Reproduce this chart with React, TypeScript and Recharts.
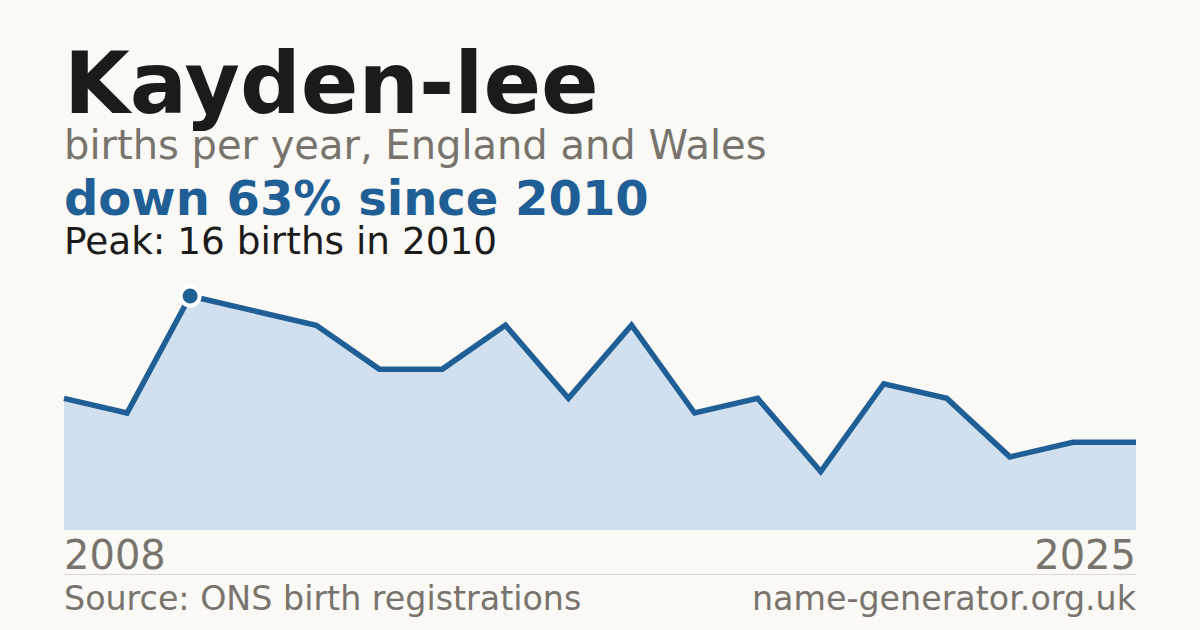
import React from "react";
import { AreaChart, Area, XAxis, YAxis, ReferenceDot } from "recharts";

const years = [2008, 2009, 2010, 2011, 2012, 2013, 2014, 2015, 2016, 2017, 2018, 2019, 2020, 2021, 2022, 2023, 2024, 2025];
const births = [9, 8, 16, 15, 14, 11, 11, 14, 9, 14, 8, 9, 4, 10, 9, 5, 6, 6];
const tickYears = [2008, 2025];
const peakYear = 2010;
const peakValue = 16;

const title = "Kayden-lee";
const subtitle = "births per year, England and Wales";
const headline = "down 63% since 2010";
const peakText = "Peak: 16 births in 2010";
const sourceText = "Source: ONS birth registrations";
const siteText = "name-generator.org.uk";

const data = years.map((y, i) => ({ year: y, births: births[i] }));

const BG = "#faf9f5";
const BLUE = "#1f5f96";
const FILL = "#d0e0ef";
const GRAY = "#78746d";
const INK = "#1b1b1b";
const FONT = "'DejaVu Sans', sans-serif";

const YearTick = (props: any) => {
  const { x, y, payload } = props;
  const first = payload.value === tickYears[0];
  return (
    <text
      x={x}
      y={y + 39}
      textAnchor={first ? "start" : "end"}
      fill={GRAY}
      fontSize={40}
      fontFamily={FONT}
    >
      {payload.value}
    </text>
  );
};

export default function App() {
  return (
    <div
      style={{
        position: "absolute",
        left: 0,
        top: 0,
        width: 1200,
        height: 630,
        background: BG,
        overflow: "hidden",
      }}
    >
      <svg width={1200} height={630} style={{ position: "absolute", left: 0, top: 0 }}>
        <text x={64} y={113} fontSize={85} fontWeight="bold" fill={INK} fontFamily={FONT}>
          {title}
        </text>
        <text x={64} y={159} fontSize={40} fill={GRAY} fontFamily={FONT}>
          {subtitle}
        </text>
        <text x={64} y={215} fontSize={48} fontWeight="bold" fill={BLUE} fontFamily={FONT}>
          {headline}
        </text>
        <text x={64} y={254} fontSize={37.4} fill={INK} fontFamily={FONT}>
          {peakText}
        </text>
        <line x1={64} x2={1136} y1={574.5} y2={574.5} stroke="#dcd9d2" strokeWidth={1} />
        <text x={64} y={610} fontSize={33.3} fill={GRAY} fontFamily={FONT}>
          {sourceText}
        </text>
        <text x={1136} y={610} fontSize={33.3} fill={GRAY} fontFamily={FONT} textAnchor="end">
          {siteText}
        </text>
      </svg>
      <div style={{ position: "absolute", left: 0, top: 0 }}>
        <AreaChart
          width={1200}
          height={630}
          data={data}
          margin={{ top: 296, right: 64, bottom: 60, left: 64 }}
          style={{ overflow: "visible" }}
        >
          <XAxis
            dataKey="year"
            ticks={tickYears}
            interval={0}
            axisLine={false}
            tickLine={false}
            tickSize={0}
            tickMargin={0}
            height={40}
            tick={<YearTick />}
          />
          <YAxis hide domain={[0, 16]} />
          <Area
            type="linear"
            dataKey="births"
            stroke={BLUE}
            strokeWidth={5.5}
            fill={FILL}
            fillOpacity={1}
            dot={false}
            activeDot={false}
            isAnimationActive={false}
          />
          <ReferenceDot
            x={peakYear}
            y={peakValue}
            r={9.5}
            fill={BLUE}
            stroke="#ffffff"
            strokeWidth={4}
          />
        </AreaChart>
      </div>
    </div>
  );
}
